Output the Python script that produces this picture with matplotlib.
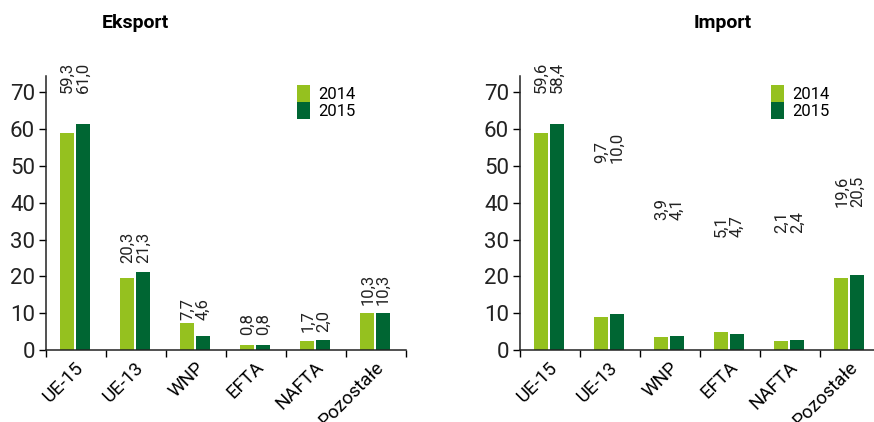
import matplotlib
matplotlib.use("Agg")
import matplotlib.pyplot as plt
import numpy as np

plt.rcParams['font.family'] = ['Roboto', 'DejaVu Sans']

categories = ["UE-15", "UE-13", "WNP", "EFTA", "NAFTA", "Pozostałe"]
years = ["2014", "2015"]

# bar heights as drawn in the source picture
exp_2014 = [59.0, 19.6, 7.2, 1.4, 2.5, 10.1]
exp_2015 = [61.4, 21.2, 3.8, 1.4, 2.7, 10.1]
imp_2014 = [59.0, 9.0, 3.5, 4.9, 2.5, 19.6]
imp_2015 = [61.4, 9.8, 3.8, 4.3, 2.7, 20.4]

# printed labels and where they sit (y value of the text start)
exp_lab_2014 = ["59,3", "20,3", "7,7", "0,8", "1,7", "10,3"]
exp_lab_2015 = ["61,0", "21,3", "4,6", "0,8", "2,0", "10,3"]
exp_lab_y = [69.8, 23.6, 8.2, 4.0, 5.0, 12.2]
imp_lab_2014 = ["59,6", "9,7", "3,9", "5,1", "2,1", "19,6"]
imp_lab_2015 = ["58,4", "10,0", "4,1", "4,7", "2,4", "20,5"]
imp_lab_y = [69.8, 50.8, 35.3, 30.7, 31.8, 38.9]

c14 = "#95C11F"
c15 = "#006633"

fig = plt.figure(figsize=(8.74, 4.22), dpi=100)
ax1 = fig.add_axes([46 / 874, 72 / 422, 360 / 874, 274 / 422])
ax2 = fig.add_axes([520 / 874, 72 / 422, 360 / 874, 274 / 422])


def draw(ax, v14, v15, l14, l15, ly):
    x = np.arange(len(categories)) + 0.48
    w = 0.233
    ax.bar(x - 0.135, v14, w, color=c14, label=years[0])
    ax.bar(x + 0.135, v15, w, color=c15, label=years[1])
    for i in range(len(categories)):
        ax.text(x[i] - 0.12, ly[i], l14[i], rotation=90, ha='center', va='bottom',
                fontsize=12, color='#222222')
        ax.text(x[i] + 0.14, ly[i], l15[i], rotation=90, ha='center', va='bottom',
                fontsize=12, color='#222222')
    ax.set_xlim(0, 6)
    ax.set_ylim(0, 74.4)
    ax.set_yticks(range(0, 71, 10))
    ax.set_xticks(x)
    ax.set_xticklabels(categories, rotation=45, ha='right', rotation_mode='anchor',
                       fontsize=13.5)
    ax.set_xticks(range(0, 7), minor=True)
    ax.tick_params(axis='x', which='major', length=0, pad=6)
    ax.tick_params(axis='x', which='minor', length=5, direction='out', width=1)
    ax.tick_params(axis='y', length=5, direction='out', width=1, labelsize=16, pad=3)
    for lab in ax.get_yticklabels():
        lab.set_color('#222222')
    for s in ['top', 'right']:
        ax.spines[s].set_visible(False)
    for s in ['left', 'bottom']:
        ax.spines[s].set_linewidth(1.1)
        ax.spines[s].set_color('#222222')
    ax.legend(loc='upper left', bbox_to_anchor=(0.665, 1.01), frameon=False,
              fontsize=12, handlelength=0.75, handleheight=1.2, handletextpad=0.5,
              labelspacing=0.0, borderpad=0.2)


draw(ax1, exp_2014, exp_2015, exp_lab_2014, exp_lab_2015, exp_lab_y)
draw(ax2, imp_2014, imp_2015, imp_lab_2014, imp_lab_2015, imp_lab_y)

fig.text(135 / 874, 1 - 23 / 422, "Eksport", ha='center', va='center',
         fontsize=14, fontweight='bold')
fig.text(723 / 874, 1 - 23 / 422, "Import", ha='center', va='center',
         fontsize=14, fontweight='bold')

fig.savefig("out.png", dpi=100)
